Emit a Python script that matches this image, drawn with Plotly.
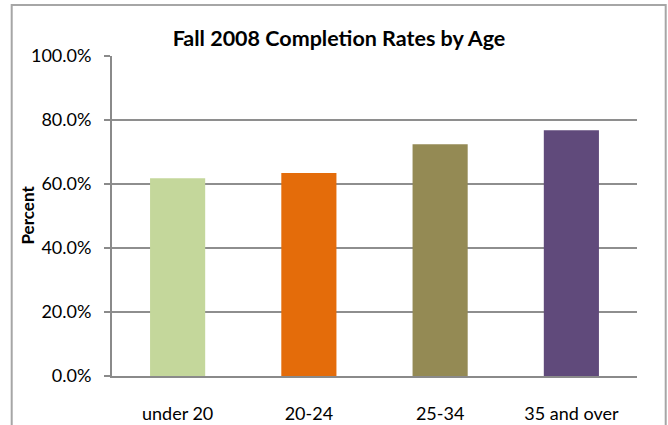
import plotly.graph_objects as go

categories = ["under 20", "20-24", "25-34", "35 and over"]
rates = [0.618, 0.634, 0.724, 0.768]
colors = ["#C4D79B", "#E46C0A", "#948A54", "#604A7B"]
y_ticks = [0, 0.2, 0.4, 0.6, 0.8, 1.0]

W, H = 668, 425
L, R, T, B = 112, 31, 56, 49
pw = W - L - R
ph = H - T - B

fig = go.Figure(go.Bar(
    x=categories, y=rates, marker=dict(color=colors, line=dict(width=0)),
    width=0.42, hoverinfo="skip"))

font = "Lato, Open Sans, sans-serif"
fig.update_layout(
    width=W, height=H,
    margin=dict(l=L, r=R, t=T, b=B, autoexpand=False),
    paper_bgcolor="white", plot_bgcolor="white",
    showlegend=False,
    font=dict(family=font, size=18, color="#000000"),
    title=dict(text="<b>Fall 2008 Completion Rates by Age</b>",
               x=339 / W, xanchor="center", xref="container",
               y=1 - 38 / H, yanchor="middle", yref="container",
               font=dict(family=font, size=21.5, color="#000000")),
    xaxis=dict(showgrid=False, showline=True, linecolor="#8a8a8a", linewidth=2,
               ticks="", tickfont=dict(size=18), ticklabelstandoff=20,
               automargin=False, fixedrange=True),
    yaxis=dict(range=[0, 1], tickvals=y_ticks, tickformat=".1%",
               showgrid=True, gridcolor="#8e8e8e", gridwidth=1.6,
               showline=True, linecolor="#8a8a8a", linewidth=2,
               ticks="outside", ticklen=6, tickwidth=2, tickcolor="#8a8a8a",
               tickfont=dict(size=18), ticklabelstandoff=9,
               automargin=False, zeroline=False, fixedrange=True),
)

fig.add_annotation(text="<b>Percent</b>", textangle=-90,
                   xref="paper", yref="paper",
                   x=(27 - L) / pw, y=0.5 - (215.5 - (T + ph / 2)) / ph,
                   xanchor="center", yanchor="middle", showarrow=False,
                   font=dict(family=font, size=17, color="#000000"))

# outer chart border
fig.add_shape(type="rect", xref="paper", yref="paper",
              x0=(11.7 - L) / pw, x1=(665.7 - L) / pw,
              y0=(H - 430 - B) / ph, y1=(H - 5 - B) / ph,
              line=dict(color="#a6a6a6", width=2), layer="below")

fig.write_html("out.html", config={"displayModeBar": False},
               post_script="document.body.style.margin='0';")
